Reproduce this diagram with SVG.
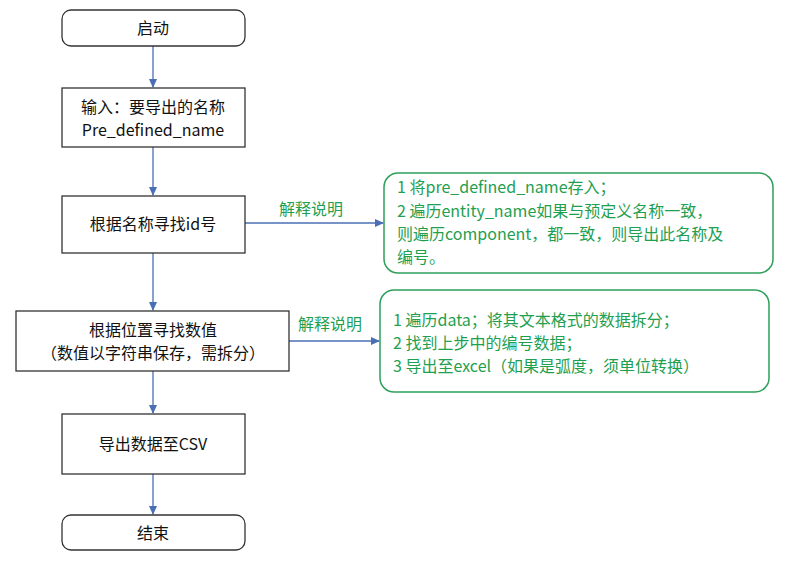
<svg xmlns="http://www.w3.org/2000/svg" width="796" height="577" viewBox="0 0 796 577">
<style>
.n{fill:#fff;stroke:#333;stroke-width:1.3}
.t{font-family:"Noto Sans CJK SC","Noto Sans",sans-serif;font-size:16px;fill:#111;text-anchor:middle}
.g{font-family:"Noto Sans CJK SC","Noto Sans",sans-serif;font-size:16px;fill:#1fa050}
.gb{fill:#fff;stroke:#2ea05a;stroke-width:1.5}
.c{stroke:#4a6fb5;stroke-width:1.3;fill:none;marker-end:url(#a)}
</style>
<defs><marker id="a" markerWidth="10" markerHeight="10" refX="8" refY="4" orient="auto" markerUnits="userSpaceOnUse"><path d="M0,0L9,4L0,8z" fill="#4a6fb5"/></marker></defs>
<rect width="796" height="577" fill="#fff"/>
<g id="connectors">
<line class="c" x1="153" y1="46" x2="153" y2="87"/>
<line class="c" x1="153" y1="147" x2="153" y2="195"/>
<line class="c" x1="153" y1="253" x2="153" y2="310"/>
<line class="c" x1="153" y1="371" x2="153" y2="413"/>
<line class="c" x1="153" y1="474" x2="153" y2="514"/>
<line class="c" x1="245" y1="223" x2="383" y2="223"/>
<line class="c" x1="289" y1="341" x2="379" y2="341"/>
<text class="g" x="279" y="215">解释说明</text>
<text class="g" x="298" y="330">解释说明</text>
</g>
<g id="start"><rect class="n" x="62" y="10" width="183" height="36" rx="9"/><text class="t" x="153" y="34">启动</text></g>
<g id="input"><rect class="n" x="62" y="88" width="183" height="59"/><text class="t" x="153" y="113">输入：要导出的名称</text><text class="t" x="153" y="136">Pre_defined_name</text></g>
<g id="findid"><rect class="n" x="62" y="196" width="183" height="57"/><text class="t" x="153" y="230">根据名称寻找id号</text></g>
<g id="findval"><rect class="n" x="16" y="311" width="273" height="60"/><text class="t" x="153" y="336">根据位置寻找数值</text><text class="t" x="153" y="359">（数值以字符串保存，需拆分）</text></g>
<g id="export"><rect class="n" x="62" y="414" width="183" height="60"/><text class="t" x="153" y="450">导出数据至CSV</text></g>
<g id="end"><rect class="n" x="62" y="515" width="183" height="35" rx="9"/><text class="t" x="153" y="539">结束</text></g>
<g id="note1"><rect class="gb" x="384" y="173" width="389" height="100" rx="14"/>
<text class="g" x="397" y="193">1 将pre_defined_name存入；</text>
<text class="g" x="397" y="217">2 遍历entity_name如果与预定义名称一致，</text>
<text class="g" x="397" y="240">则遍历component，都一致，则导出此名称及</text>
<text class="g" x="397" y="263">编号。</text></g>
<g id="note2"><rect class="gb" x="380" y="290" width="389" height="102" rx="14"/>
<text class="g" x="393" y="326">1 遍历data；将其文本格式的数据拆分；</text>
<text class="g" x="393" y="349">2 找到上步中的编号数据；</text>
<text class="g" x="393" y="372">3 导出至excel（如果是弧度，须单位转换）</text></g>
</svg>
